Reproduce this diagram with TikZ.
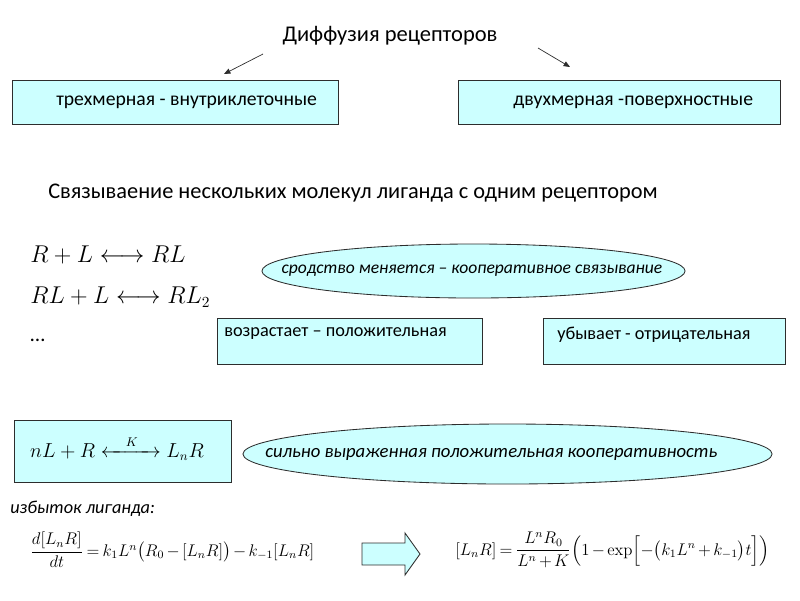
\documentclass[tikz,border=0pt]{standalone}
\usepackage{amsmath,mathtools}
\usepackage[no-math]{fontspec}
\setmainfont{Carlito}
\usepackage{tikz}
\usetikzlibrary{arrows.meta,shapes.geometric,positioning,calc}
\definecolor{cellfill}{RGB}{204,255,255}
\definecolor{edge}{RGB}{45,45,45}
\newcommand{\tightmu}{\medmuskip=2.5mu\relax\thickmuskip=3.5mu\relax}

\begin{document}
\begin{tikzpicture}[x=0.025cm,y=-0.025cm,
  cellbox/.style={draw=edge,fill=cellfill,line width=0.6pt,inner sep=0pt},
  oval/.style={ellipse,draw=edge,fill=cellfill,line width=0.6pt,inner sep=0pt},
  boxtext/.style={font=\fontsize{14}{17}\selectfont,inner sep=0pt,anchor=west},
  ovaltext/.style={font=\fontsize{13}{16}\selectfont\itshape,inner sep=0pt},
  eqn/.style={font=\fontsize{16}{19}\selectfont,inner sep=0pt,anchor=west},
  eqsmall/.style={font=\fontsize{11.8}{14}\selectfont\tightmu,inner sep=0pt,anchor=west},
  pointer/.style={-{Triangle[length=1.6mm,width=1.3mm]},line width=0.5pt,draw=edge}]
\useasboundingbox (0,0) rectangle (800,600);

% diffusion of receptors
\node[font=\fontsize{16}{19}\selectfont] (diff) at (390,36) {Диффузия рецепторов};
\coordinate (lfrom) at (263,54);
\coordinate (lto) at (224,74);
\coordinate (rfrom) at (538,48);
\coordinate (rto) at (570,67);
\draw[pointer] (lfrom) -- (lto);
\draw[pointer] (rfrom) -- (rto);

\node[cellbox,minimum width=8.15cm,minimum height=1.1cm] (three) at (175,102) {};
\node[boxtext] (threetext) at (56,102) {трехмерная - внутриклеточные};
\node[cellbox,minimum width=8.05cm,minimum height=1.1cm] (two) at (619,102) {};
\node[boxtext] (twotext) at (513,102) {двухмерная -поверхностные};

% several ligands on one receptor
\node[font=\fontsize{15.9}{18}\selectfont,anchor=west,inner sep=0pt] (bind) at (48,193)
  {Связываение нескольких молекул лиганда с одним рецептором};
\node[eqn] (eqa) at (30,255) {$R+L\longleftrightarrow RL$};
\node[eqn] (eqb) at (30,297) {$RL+L\longleftrightarrow RL_2$};
\node[eqn,font=\fontsize{15}{18}\selectfont] (dots) at (30,340) {…};

\node[oval,minimum width=10.575cm,minimum height=1.35cm] (coop) at (473.5,271) {};
\node[ovaltext,font=\fontsize{12.5}{15}\selectfont\itshape] (cooptext) at (472,271)
  {сродство меняется – кооперативное связывание};
\node[cellbox,minimum width=6.625cm,minimum height=1.15cm] (up) at (349.5,341) {};
\node[boxtext,font=\fontsize{13}{16}\selectfont] (uptext) at (224,334) {возрастает – положительная};
\node[cellbox,minimum width=6.05cm,minimum height=1.15cm] (down) at (664,341) {};
\node[boxtext,font=\fontsize{13}{16}\selectfont] (downtext) at (557,335) {убывает - отрицательная};

% strong cooperativity
\node[cellbox,minimum width=5.425cm,minimum height=1.55cm] (hill) at (122.5,451) {};
\node[eqn,font=\fontsize{13.5}{16}\selectfont,anchor=center] (hilleq) at (117,448)
  {$nL+R\xleftrightarrow{\quad K\quad}L_nR$};
\node[oval,minimum width=13.225cm,minimum height=1.5cm] (strong) at (507.5,454) {};
\node[ovaltext,font=\fontsize{13.3}{16}\selectfont\itshape,anchor=west] (strongtext) at (265,454)
  {сильно выраженная положительная кооперативность};

% excess of ligand
\node[ovaltext,anchor=west] (excess) at (10,509) {избыток лиганда:};
\node[eqsmall] (rate) at (30,550)
  {$\dfrac{d[L_nR]}{dt}=k_1L^n\bigl(R_0-[L_nR]\bigr)-k_{-1}[L_nR]$};
\draw[draw=edge,fill=cellfill,line width=0.6pt]
  (362,543) -- (405,543) -- (405,533) -- (420,554) -- (405,575) -- (405,565) -- (362,565) -- cycle;
\node[eqsmall] (sol) at (455,550)
  {$[L_nR]=\dfrac{L^nR_0}{L^n+K}\Bigl(1-\exp\Bigl[-\bigl(k_1L^n+k_{-1}\bigr)t\Bigr]\Bigr)$};
\end{tikzpicture}
\end{document}
